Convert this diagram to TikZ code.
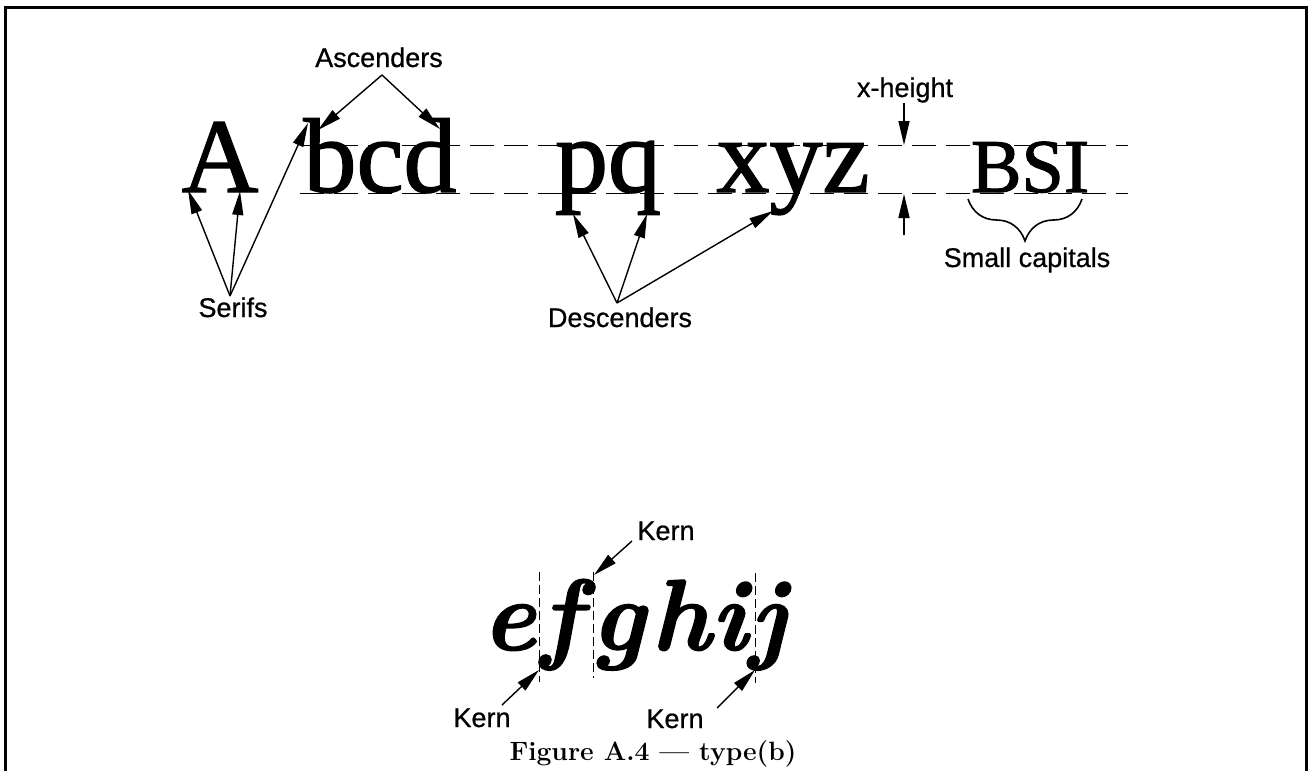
\documentclass[tikz,border=0pt]{standalone}
\usepackage{fontspec}
\usetikzlibrary{arrows.meta,decorations.pathreplacing}
\newfontfamily\sansA[FakeBold=0.7]{Liberation Sans}
\newfontfamily\serifA[FakeBold=1.4]{Liberation Serif}
\newfontfamily\lmBI[FakeBold=1.3]{lmroman10-bolditalic.otf}
\begin{document}
\begin{tikzpicture}[x=1pt,y=-1pt,
  lbl/.style={font=\sansA\fontsize{27}{27}\selectfont, inner sep=0pt, anchor=base},
  big/.style={font=\serifA\fontsize{106}{106}\selectfont, inner sep=0pt, anchor=base},
  ital/.style={font=\lmBI\fontsize{101}{101}\selectfont, inner sep=0pt, anchor=base},
  arr/.style={line width=1.4pt, -{Triangle[length=24pt,width=11pt]}},
  guide/.style={line width=1pt, dash pattern=on 24pt off 10pt},
  vguide/.style={line width=0.9pt, dash pattern=on 9pt off 4pt}]
\useasboundingbox (0,0) rectangle (1313,771);
% frame
\draw[line width=3pt] (5,771) -- (5,7) -- (1306,7) -- (1306,771);
% guide lines
\draw[guide] (300,145) -- (1128,145);
\draw[guide] (300,193) -- (1128,193);
% letters
\node[big] (A) at (220,192) {A};
\node[big] (bcd) at (380,192) {bcd};
\node[big] (pq) at (608,192) {pq};
\node[big] (xyz) at (793,192) {xyz};
\node[font=\serifA\fontsize{76}{76}\selectfont, inner sep=0pt, anchor=base] (BSI) at (1030,192) {BSI};
% labels
\node[lbl] (asc) at (379,67) {Ascenders};
\node[lbl] (ser) at (233,317) {Serifs};
\node[lbl] (desc) at (620,327) {Descenders};
\node[lbl] (xh) at (905,97) {x-height};
\node[lbl] (sc) at (1027,267) {Small capitals};
% targets
\coordinate (ascS) at (382,75);
\coordinate (ascB) at (318,130);
\coordinate (ascD) at (440,129);
\coordinate (serS) at (230,296);
\coordinate (serA1) at (188,190);
\coordinate (serA2) at (240,191);
\coordinate (serB) at (308,123);
\coordinate (descS) at (617,303);
\coordinate (descP) at (573,214);
\coordinate (descQ) at (647,214);
\coordinate (descY) at (773,211);
\coordinate (xhT) at (904,103);
\coordinate (xhTe) at (904,145);
\coordinate (xhB) at (904,235);
\coordinate (xhBe) at (904,194);
\draw[arr] (ascS) -- (ascB);
\draw[arr] (ascS) -- (ascD);
\draw[arr] (serS) -- (serA1);
\draw[arr] (serS) -- (serA2);
\draw[arr] (serS) -- (serB);
\draw[arr] (descS) -- (descP);
\draw[arr] (descS) -- (descQ);
\draw[arr] (descS) -- (descY);
\draw[arr] (xhT) -- (xhTe);
\draw[arr] (xhB) -- (xhBe);
% brace
\draw[line width=1.6pt, decorate, decoration={brace, amplitude=42pt}] (1082,199) -- (968,199);
% bottom part
\node[ital] (e) at (509,650) {e};
\node[ital] (f) at (561,650) {f};
\node[ital] (g) at (618,650) {g};
\node[ital] (h) at (681,650) {h};
\node[ital] (i) at (729,650) {i};
\node[ital] (j) at (768,650) {j};
\draw[vguide] (539,572) -- (539,682);
\draw[vguide] (593,572) -- (593,678);
\draw[vguide] (755,573) -- (755,683);
\node[lbl] (k1) at (666,540) {Kern};
\node[lbl] (k2) at (482,727) {Kern};
\node[lbl] (k3) at (675,728) {Kern};
\coordinate (k1s) at (632,541);
\coordinate (k1e) at (594,575);
\coordinate (k2s) at (502,705);
\coordinate (k2e) at (539,670);
\coordinate (k3s) at (717,708);
\coordinate (k3e) at (755,670);
\draw[arr] (k1s) -- (k1e);
\draw[arr] (k2s) -- (k2e);
\draw[arr] (k3s) -- (k3e);
\node[font=\bfseries\fontsize{26.5}{26.5}\selectfont, inner sep=0pt, anchor=base] (cap) at (653,760) {Figure A.4 --- type(b)};
\end{tikzpicture}
\end{document}
